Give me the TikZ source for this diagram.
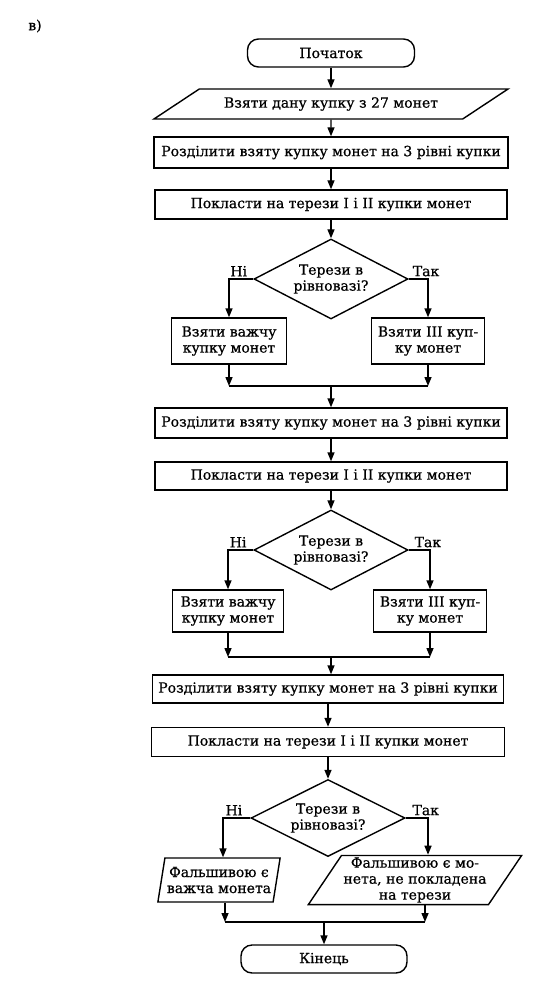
\documentclass[tikz,border=0pt]{standalone}
\usepackage{fontspec}
\setmainfont{DejaVu Serif}[FakeBold=0.7]
\usetikzlibrary{shapes.geometric,arrows.meta}

\tikzset{
  term/.style={draw, rectangle, rounded corners=11pt, minimum width=167pt, minimum height=28pt, inner sep=2pt},
  proc/.style={draw, rectangle, minimum height=30pt, inner sep=3pt, align=center},
  io/.style={draw, trapezium, trapezium stretches=true, inner sep=2pt, align=center},
  cond/.style={draw, diamond, aspect=1.9, minimum width=154pt, minimum height=80pt, inner sep=0pt, align=center},
  lbl/.style={inner sep=2pt},
}

\begin{document}
\begin{tikzpicture}[x=1pt, y=-1pt, line width=1.4pt, >={Triangle[length=9pt,width=7pt]},
  font=\fontsize{14pt}{16pt}\selectfont]
\useasboundingbox (0,0) rectangle (558,1003);
\node (part) at (35,26) {в)};
% top part
\node [term] (start) at (331,53) {Початок};
\node [io, minimum width=355pt, minimum height=30pt, trapezium left angle=25, trapezium right angle=155] (take) at (331,104) {Взяти дану купку з 27 монет};
\node [proc, minimum width=354pt, minimum height=31pt] (split1) at (331,152.5) {Розділити взяту купку монет на 3 рівні купки};
\node [proc, minimum width=352pt, minimum height=29pt] (weigh1) at (331,204.5) {Покласти на терези I і II купки монет};
\node [cond] (eq1) at (331,279) {Терези в\\рівновазі?};
\node [proc, minimum width=115pt, minimum height=46pt] (heavy1) at (229,341) {Взяти важчу\\купку монет};
\node [proc, minimum width=113pt, minimum height=46pt] (third1) at (428,341) {Взяти III куп-\\ку монет};
\coordinate (join1) at (331,386);
\draw [->] (start) -- (take);
\draw [->] (take) -- (split1);
\draw [->] (split1) -- (weigh1);
\draw [->] (weigh1) -- (eq1);
\draw [->] (eq1.west) -| node [lbl, above, pos=0.3] (no1) {Ні} (heavy1.north);
\draw [->] (eq1.east) -| node [lbl, above, pos=0.45] (yes1) {Так} (third1.north);
\draw [->] (heavy1.south) -- (heavy1.south |- join1);
\draw [->] (third1.south) -- (third1.south |- join1);
\draw (heavy1.south |- join1) -- (third1.south |- join1);
% middle part
\node [proc, minimum width=352pt, minimum height=30pt] (split2) at (331,423) {Розділити взяту купку монет на 3 рівні купки};
\node [proc, minimum width=352pt, minimum height=28pt] (weigh2) at (331,476) {Покласти на терези I і II купки монет};
\node [cond] (eq2) at (331,550) {Терези в\\рівновазі?};
\node [proc, minimum width=111pt, minimum height=42pt] (heavy2) at (228,611) {Взяти важчу\\купку монет};
\node [proc, minimum width=113pt, minimum height=42pt] (third2) at (430,611) {Взяти III куп-\\ку монет};
\coordinate (join2) at (331,657);
\draw [->] (join1) -- (split2);
\draw [->] (split2) -- (weigh2);
\draw [->] (weigh2) -- (eq2);
\draw [->] (eq2.west) -| node [lbl, above, pos=0.3] (no2) {Ні} (heavy2.north);
\draw [->] (eq2.east) -| node [lbl, above, pos=0.45] (yes2) {Так} (third2.north);
\draw [->] (heavy2.south) -- (heavy2.south |- join2);
\draw [->] (third2.south) -- (third2.south |- join2);
\draw (heavy2.south |- join2) -- (third2.south |- join2);
% bottom part
\node [proc, minimum width=351pt, minimum height=28pt] (split3) at (328,689) {Розділити взяту купку монет на 3 рівні купки};
\node [proc, minimum width=353pt, minimum height=29pt] (weigh3) at (328,742) {Покласти на терези I і II купки монет};
\node [cond, minimum height=77pt] (eq3) at (328,818) {Терези в\\рівновазі?};
\node [io, minimum width=118pt, minimum height=44pt, trapezium left angle=77, trapezium right angle=103] (fake1) at (219,880) {Фальшивою є\\важча монета};
\node [io, minimum width=191pt, minimum height=47pt, trapezium left angle=56, trapezium right angle=124] (fake2) at (415,880) {Фальшивою є мо-\\нета, не покладена\\на терези};
\coordinate (join3) at (324,922);
\node [term, minimum width=166pt] (stop) at (324,959) {Кінець};
\draw [->] (join2 |- split3.north) ++(0,-18) -- (join2 |- split3.north);
\draw [->] (split3) -- (weigh3);
\draw [->] (weigh3) -- (eq3);
\draw [->] (eq3.west) -| node [lbl, above, pos=0.3] (no3) {Ні} ([xshift=4pt]fake1.north);
\draw [->] (eq3.east) -| node [lbl, above, pos=0.45] (yes3) {Так} ([xshift=13pt]fake2.north);
\draw [->] ([xshift=6pt]fake1.south) -- ([xshift=6pt]fake1.south |- join3);
\draw [->] ([xshift=10pt]fake2.south) -- ([xshift=10pt]fake2.south |- join3);
\draw ([xshift=6pt]fake1.south |- join3) -- ([xshift=10pt]fake2.south |- join3);
\draw [->] (join3) -- (stop);
\end{tikzpicture}
\end{document}
